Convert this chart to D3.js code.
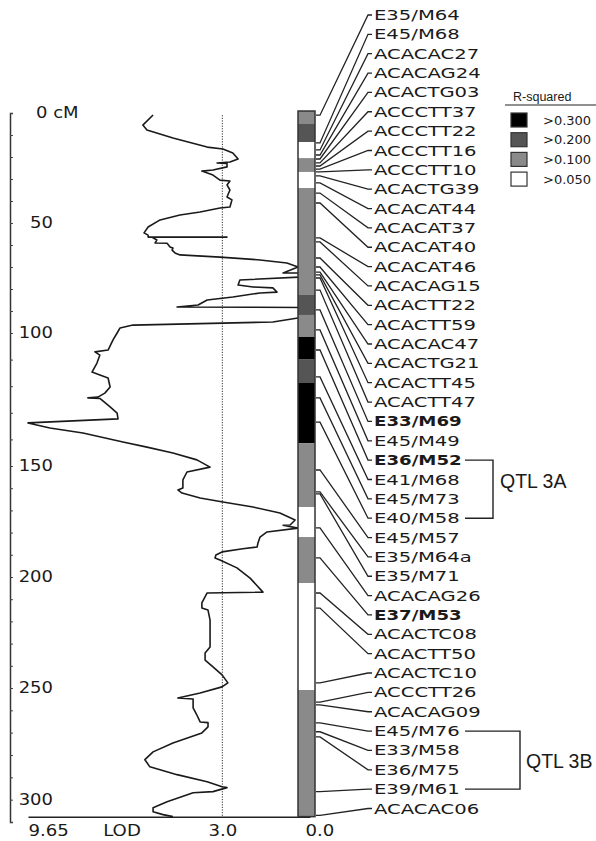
<!DOCTYPE html>
<html>
<head>
<meta charset="utf-8">
<script src="https://cdn.jsdelivr.net/npm/d3@7"></script>
<style>
  body { margin: 0; background: #fff; }
  text { fill: #1a1a1a; }
</style>
</head>
<body>
<div id="chart"></div>
<script>
// markers of the linkage group, top to bottom, with their map position (cM)
const markerNames = [
  "E35/M64", "E45/M68", "ACACAC27", "ACACAG24", "ACACTG03", "ACCCTT37", "ACCCTT22",
  "ACCCTT16", "ACCCTT10", "ACACTG39", "ACACAT44", "ACACAT37", "ACACAT40", "ACACAT46",
  "ACACAG15", "ACACTT22", "ACACTT59", "ACACAC47", "ACACTG21", "ACACTT45", "ACACTT47",
  "E33/M69", "E45/M49", "E36/M52", "E41/M68", "E45/M73", "E40/M58", "E45/M57",
  "E35/M64a", "E35/M71", "ACACAG26", "E37/M53", "ACACTC08", "ACACTT50", "ACACTC10",
  "ACCCTT26", "ACACAG09", "E45/M76", "E33/M58", "E36/M75", "E39/M61", "ACACAC06"
];
const markerCm = [
  1, 13.6, 16.8, 19.1, 20.9, 22.7, 24.1,
  25.5, 26.8, 28.6, 31.8, 36.4, 40.9, 56.8,
  58.6, 65.9, 70, 72.3, 73.6, 75, 80.5,
  89.5, 98.6, 106.4, 116.5, 124.4, 133.5, 151.8,
  161.7, 162.6, 177.9, 191.4, 207.2, 214, 247.7,
  256.3, 257.6, 265.6, 269.6, 271.9, 296.4, 307
];
const boldMarkers = ["E33/M69", "E36/M52", "E37/M53"];

// R-squared bins along the chromosome bar
const binStart = [-0.9, 5, 13.2, 20.5, 26.8, 34.1, 82.7, 91.8, 101.5, 109.8, 118.8, 141.4, 168.5, 182, 202.7, 250.9];
const binEnd   = [5, 13.2, 20.5, 26.8, 34.1, 82.7, 91.8, 101.5, 109.8, 118.8, 141.4, 168.5, 182, 202.7, 250.9, 307.6];
const binClass = [2, 1, 3, 2, 3, 2, 1, 2, 0, 1, 0, 2, 3, 2, 3, 2];
const rsqLabels = [">0.300", ">0.200", ">0.100", ">0.050"];
const rsqColors = ["#000000", "#555555", "#8a8a8a", "#ffffff"];

// LOD profile
const lodCm = [
  0.9, 5.5, 7.7, 11.4, 15.5, 16.4, 18.2, 20.9, 22.3, 22.7, 22.9, 24.5, 25.9, 26.4, 28.2,
  30.5, 30.9, 32.7, 35, 38.2, 39.5, 42.7, 43.2, 45, 46.4, 48.6, 51.8, 54.5, 55.5, 56.4,
  56.4, 56.5, 57.7, 59.1, 59.2, 60.9, 61.4, 62.3, 63.6, 64.5, 65.5, 66.8, 68.2, 70, 72.7,
  72.7, 74.5, 75.9, 78.2, 79.1, 79.5, 81.4, 81.8, 83.6, 85, 87.3, 88.2, 88.4, 92.7, 95,
  96.4, 97.7, 100, 102.6, 106.4, 107.1, 108.3, 111.3, 114.7, 115.8, 116.9, 120.3, 122.6, 124.1, 124.4,
  124.6, 127.8, 130.1, 132.3, 133.8, 135.7, 137.6, 141, 142.9, 145.1, 147.7, 150.5, 152.7, 156.3, 159.9,
  160.8, 162.2, 164.4, 166.2, 168.5, 171.2, 174.3, 176.6, 176.7, 178, 179.7, 182, 184.7, 186.5, 187.3,
  188.7, 190.1, 191.4, 192.3, 195.9, 200.5, 206.8, 207.2, 211.7, 214, 214.9, 219.4, 231.5, 234.2, 237.4,
  240.5, 244.1, 247.7, 249.5, 252.2, 254.5, 254.9, 258.9, 262.1, 265.2, 265.5, 267.4, 270.1, 274.6, 278.6,
  282.1, 285.3, 288.8, 292, 294.2, 294.6, 296.4, 296.9, 300.9, 303.6, 305.4, 306.7, 307.6
];
const lodValue = [
  5.37, 5.72, 5.58, 4.69, 3.52, 2.98, 2.64, 2.46, 2.74, 3.18, 2.84, 2.84, 3.32, 3.70, 3.32,
  3.08, 2.74, 2.84, 2.74, 2.84, 2.67, 2.74, 3.08, 3.76, 4.45, 5.13, 5.54, 5.68, 5.54, 5.54,
  2.84, 5.40, 5.24, 5.30, 4.89, 4.79, 4.69, 4.72, 4.62, 4.45, 3.08, 1.71, 0.79, 0.41, 0.92,
  0.20, 0.20, 2.40, 2.46, 1.95, 1.27, 1.13, 1.71, 2.64, 3.52, 3.83, 4.55, 0.20, 0.20, 1.27,
  6.06, 6.50, 6.60, 6.74, 6.91, 7.36, 7.19, 7.29, 7.46, 7.19, 6.91, 6.84, 7.02, 7.26, 7.60,
  7.19, 6.84, 6.60, 6.57, 9.65, 8.90, 7.77, 6.40, 5.58, 4.69, 3.87, 3.42, 4.21, 4.35, 4.35,
  4.52, 4.38, 3.76, 2.98, 1.95, 1.03, 0.51, 0.68, 0.92, 0.41, 1.47, 1.71, 1.78, 1.81, 2.30,
  3.01, 3.22, 3.25, 3.08, 2.50, 2.05, 1.61, 3.52, 3.70, 3.70, 3.49, 3.42, 3.42, 3.59, 3.59,
  3.32, 3.01, 2.81, 3.01, 3.76, 4.52, 4.00, 4.00, 3.87, 3.76, 3.49, 3.49, 3.70, 4.69, 5.37,
  5.65, 5.48, 4.55, 3.52, 3.01, 2.84, 3.32, 4.00, 4.89, 5.37, 5.37, 5.03, 4.69
];
const lodThreshold = 3.0;
const lodTicks = [9.65, 3.0, 0.0];
const cmTicks = d3.range(0, 311, 10);
const chromStart = -0.9, chromEnd = 307.6;

// QTL brackets
const qtlNames = ["QTL 3A", "QTL 3B"];
const qtlFrom = ["E36/M52", "E45/M76"];
const qtlTo = ["E40/M58", "E39/M61"];

const W = 596, H = 841;
const svg = d3.select("#chart").append("svg").attr("width", W).attr("height", H);

// the printed map is not quite linear between 100 and 150 cM
const y = d3.scaleLinear()
  .domain([0, 50, 100, 150, 200, 250, 310])
  .range([113, 223, 333, 466, 577, 688, 822]);
const x = d3.scaleLinear().domain([9.65, 0]).range([28, 310]);
const labelY = d3.scalePoint().domain(d3.range(markerNames.length)).range([15, 808.5]);

const barX = 298, barW = 17;
const leadX0 = barX + barW + 1, labelX = 374;

// cM axis
const yAxis = svg.append("g")
  .attr("transform", "translate(10,0)")
  .call(d3.axisRight(y).tickValues(cmTicks).tickSize(3).tickSizeOuter(3)
    .tickFormat(d => d % 50 ? "" : (d === 0 ? "0 cM" : d)));
yAxis.select(".domain").attr("stroke", "#333").attr("stroke-width", 1.5);
yAxis.selectAll(".tick line").attr("stroke", "#444");
yAxis.selectAll("text")
  .attr("font-family", "DejaVu Sans").attr("font-size", 15)
  .attr("x", 0)
  .attr("text-anchor", d => d === 0 ? "start" : "end")
  .attr("transform", d => `translate(${d === 0 ? 26 : 43},0) scale(1.2,1)`);

// LOD axis
const xAxis = svg.append("g")
  .attr("transform", `translate(0,${y(chromEnd)})`)
  .call(d3.axisBottom(x).tickValues(lodTicks).tickSize(0).tickSizeOuter(0).tickPadding(8)
    .tickFormat(d => d3.format(d % 1 ? ".2f" : ".1f")(d)));
xAxis.select(".domain").attr("stroke", "#222").attr("stroke-width", 1.5);
xAxis.selectAll("text")
  .attr("font-family", "DejaVu Sans").attr("font-size", 15.5)
  .attr("x", 0)
  .attr("text-anchor", (d, i) => ["start", "middle", "start"][i])
  .attr("transform", (d, i) => `translate(${[0, 0, -5][i]},0) scale(1.17,1)`);
svg.append("text")
  .attr("transform", `translate(122,${y(chromEnd) + 8}) scale(1.17,1)`)
  .attr("dy", "0.71em")
  .attr("text-anchor", "middle")
  .attr("font-family", "DejaVu Sans").attr("font-size", 15.5)
  .text("LOD");

// threshold
svg.append("line")
  .attr("x1", x(lodThreshold)).attr("x2", x(lodThreshold))
  .attr("y1", y(1)).attr("y2", y(chromEnd))
  .attr("stroke", "#333").attr("stroke-width", 1)
  .attr("stroke-dasharray", "1.2,1.4");

// LOD profile
const line = d3.line().x(d => x(d[1])).y(d => y(d[0]));
svg.append("path")
  .datum(d3.zip(lodCm, lodValue))
  .attr("d", line)
  .attr("fill", "none")
  .attr("stroke", "#1a1a1a")
  .attr("stroke-width", 1.6)
  .attr("stroke-linejoin", "round");

// chromosome bar
const bins = binStart.map((s, i) => ({ s, e: binEnd[i], c: binClass[i] }));
svg.append("g").selectAll("rect")
  .data(bins)
  .join("rect")
    .attr("x", barX)
    .attr("y", d => y(d.s))
    .attr("width", barW)
    .attr("height", d => y(d.e) - y(d.s))
    .attr("fill", d => rsqColors[d.c]);
svg.append("rect")
  .attr("x", barX).attr("y", y(chromStart))
  .attr("width", barW).attr("height", y(chromEnd) - y(chromStart))
  .attr("fill", "none").attr("stroke", "#333").attr("stroke-width", 1.5);

// leaders and marker names
const markers = markerNames.map((name, i) => ({ name, cm: markerCm[i], i }));
svg.append("g").selectAll("path")
  .data(markers)
  .join("path")
    .attr("d", d => `M${leadX0},${y(d.cm)}H${leadX0 + 4}L${labelX - 6},${labelY(d.i)}H${labelX - 2}`)
    .attr("fill", "none")
    .attr("stroke", "#222")
    .attr("stroke-width", 1.3);

svg.append("g").selectAll("text")
  .data(markers)
  .join("text")
    .attr("transform", d => `translate(${labelX},${labelY(d.i)}) scale(${boldMarkers.includes(d.name) ? 1.3 : 1.4},1)`)
    .attr("dy", "0.36em")
    .attr("font-family", "DejaVu Sans")
    .attr("font-size", 14)
    .attr("font-weight", d => boldMarkers.includes(d.name) ? "bold" : "normal")
    .text(d => d.name);

// QTL brackets
const qtlRight = [493, 520], qtlTextX = [500, 526], qtlDy = [-8, 1];
qtlNames.forEach((name, k) => {
  const y0 = labelY(markerNames.indexOf(qtlFrom[k]));
  const y1 = labelY(markerNames.indexOf(qtlTo[k]));
  svg.append("path")
    .attr("d", `M465,${y0}H${qtlRight[k]}V${y1}H465`)
    .attr("fill", "none").attr("stroke", "#222").attr("stroke-width", 1.4);
  svg.append("text")
    .attr("x", qtlTextX[k]).attr("y", (y0 + y1) / 2 + qtlDy[k])
    .attr("dy", "0.35em")
    .attr("font-family", "Liberation Sans").attr("font-size", 19.5)
    .text(name);
});

// legend
const legend = svg.append("g").attr("transform", "translate(505,0)");
legend.append("text")
  .attr("x", 8).attr("y", 101)
  .attr("font-family", "Liberation Sans").attr("font-size", 12.5)
  .text("R-squared");
legend.append("line")
  .attr("x1", 0).attr("x2", 91).attr("y1", 105).attr("y2", 105)
  .attr("stroke", "#222").attr("stroke-width", 1.2);
const item = legend.selectAll(".item")
  .data(rsqLabels)
  .join("g")
    .attr("class", "item")
    .attr("transform", (d, i) => `translate(6,${113 + i * 19.7})`);
item.append("rect")
  .attr("width", 16).attr("height", 14)
  .attr("fill", (d, i) => rsqColors[i])
  .attr("stroke", "#333").attr("stroke-width", 1.2);
item.append("text")
  .attr("x", 32).attr("y", 7).attr("dy", "0.36em")
  .attr("font-family", "DejaVu Sans").attr("font-size", 13)
  .text(d => d);
</script>
</body>
</html>
